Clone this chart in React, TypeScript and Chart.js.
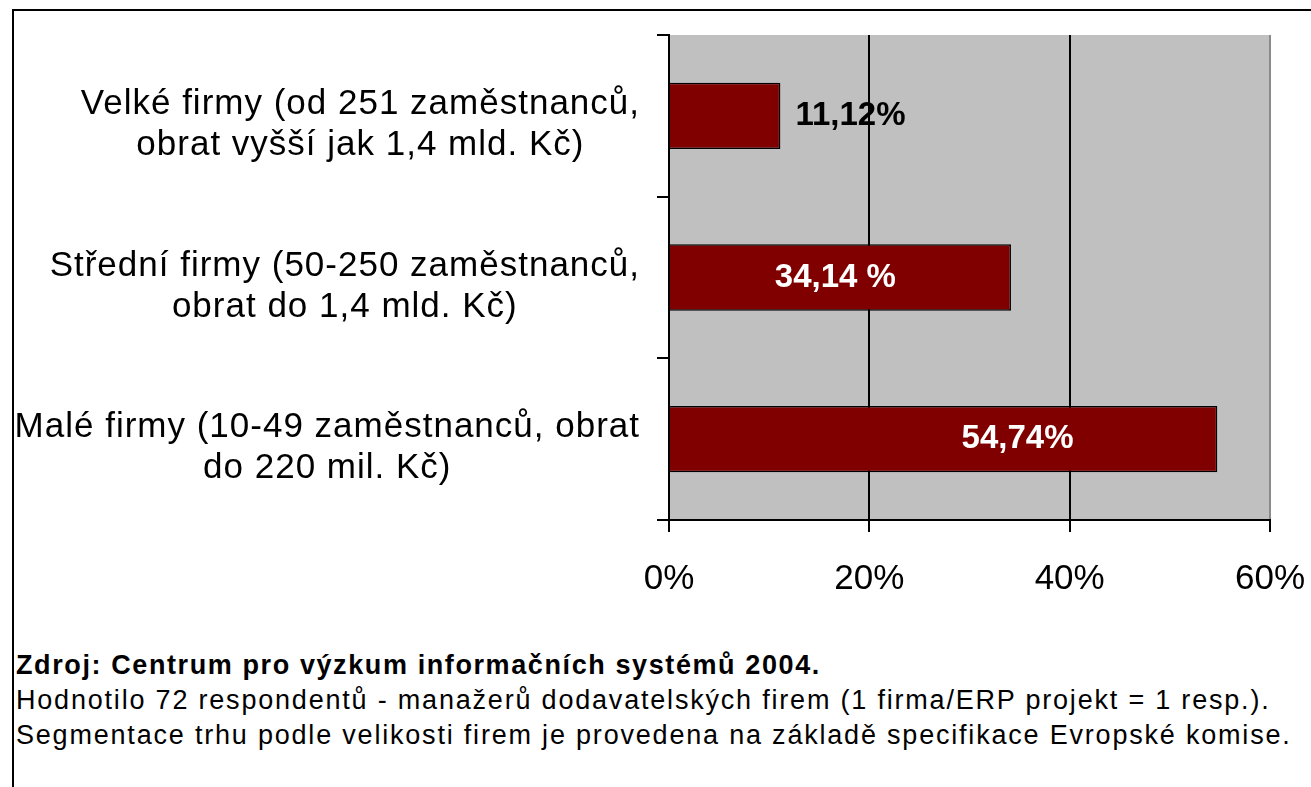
import React, { useEffect, useRef } from 'react';
import { Chart, registerables } from 'chart.js';

Chart.register(...registerables);

// ---- data ----
const categories: string[][] = [
  ['Velké firmy (od 251 zaměstnanců,', 'obrat vyšší jak 1,4 mld. Kč)'],
  ['Střední firmy (50-250 zaměstnanců,', 'obrat do 1,4 mld. Kč)'],
  ['Malé firmy (10-49 zaměstnanců, obrat', 'do 220 mil. Kč)'],
];
const shares: number[] = [11.12, 34.14, 54.74];
const valueLabels: string[] = ['11,12%', '34,14 %', '54,74%'];
const xTickValues: number[] = [0, 20, 40, 60];
const sourceLine = 'Zdroj: Centrum pro výzkum informačních systémů 2004.';
const noteLines: string[] = [
  'Hodnotilo 72 respondentů - manažerů dodavatelských firem (1 firma/ERP projekt = 1 resp.).',
  'Segmentace trhu podle velikosti firem je provedena na základě specifikace Evropské komise.',
];

// ---- style ----
const FONT = '"Liberation Sans", Arial, sans-serif';
const BAR_RED = '#800000';
const PLOT_GRAY = '#C0C0C0';
// where each value label sits: 'outside' = right of bar end, number = share of bar length for label centre
const labelPlacement: (string | number)[] = ['outside', 0.485, 0.635];

const plotBackground = {
  id: 'plotBackground',
  beforeDraw(chart: any) {
    const { ctx, chartArea } = chart;
    ctx.save();
    ctx.fillStyle = PLOT_GRAY;
    ctx.fillRect(chartArea.left, chartArea.top, chartArea.right - chartArea.left, chartArea.bottom - chartArea.top);
    ctx.restore();
  },
};

const categoryLabels = {
  id: 'categoryLabels',
  afterDraw(chart: any) {
    const { ctx } = chart;
    const yScale = chart.scales.y;
    ctx.save();
    ctx.font = `35px ${FONT}`;
    (ctx as any).letterSpacing = '1px';
    ctx.fillStyle = '#000';
    ctx.textAlign = 'center';
    ctx.textBaseline = 'middle';
    const rightEdge = chart.chartArea.left - 29;
    const lineGap = 41;
    categories.forEach((lines, i) => {
      const cy = yScale.getPixelForValue(i) + 9;
      const widest = Math.max(...lines.map((l) => ctx.measureText(l).width));
      const cx = rightEdge - widest / 2;
      const start = cy - ((lines.length - 1) * lineGap) / 2;
      lines.forEach((l, j) => ctx.fillText(l, cx, start + j * lineGap));
    });
    ctx.restore();
  },
};

const valueLabelPlugin = {
  id: 'valueLabels',
  afterDatasetsDraw(chart: any) {
    const { ctx } = chart;
    const meta = chart.getDatasetMeta(0);
    ctx.save();
    ctx.font = `bold 33px ${FONT}`;
    ctx.textBaseline = 'middle';
    meta.data.forEach((bar: any, i: number) => {
      const place = labelPlacement[i];
      if (place === 'outside') {
        ctx.fillStyle = '#000';
        ctx.textAlign = 'left';
        ctx.fillText(valueLabels[i], bar.x + 15, bar.y);
      } else {
        ctx.fillStyle = '#fff';
        ctx.textAlign = 'center';
        ctx.fillText(valueLabels[i], bar.base + (bar.x - bar.base) * (place as number), bar.y);
      }
    });
    ctx.restore();
  },
};

export default function App() {
  const canvasRef = useRef<HTMLCanvasElement | null>(null);

  useEffect(() => {
    if (!canvasRef.current) return;
    const chart = new Chart(canvasRef.current, {
      type: 'bar',
      data: {
        labels: categories.map((c) => c.join(' ')),
        datasets: [
          {
            data: shares,
            backgroundColor: BAR_RED,
            borderColor: '#000',
            borderWidth: 1.5,
            barPercentage: 0.41,
            categoryPercentage: 1,
          },
        ],
      },
      options: {
        indexAxis: 'y',
        responsive: false,
        animation: false,
        devicePixelRatio: 1,
        layout: { padding: { top: 35, right: 41, left: 0, bottom: 0 } },
        plugins: { legend: { display: false }, tooltip: { enabled: false }, title: { display: false } },
        scales: {
          x: {
            min: xTickValues[0],
            max: xTickValues[xTickValues.length - 1],
            afterBuildTicks: (scale: any) => {
              scale.ticks = xTickValues.map((v) => ({ value: v }));
            },
            afterFit: (scale: any) => {
              scale.height = 100;
              scale.paddingLeft = 0;
              scale.paddingRight = 0;
            },
            ticks: {
              callback: (v: any) => `${v}%`,
              font: { family: FONT, size: 35 },
              color: '#000',
              padding: 26,
              maxRotation: 0,
            },
            grid: {
              color: (c: any) => (c.index === xTickValues.length - 1 ? '#8a8a8a' : '#000'),
              tickColor: '#000',
              lineWidth: 2,
              tickLength: 12,
            },
            border: { display: true, color: '#000', width: 2 },
          },
          y: {
            afterFit: (scale: any) => {
              scale.width = 669;
              scale.paddingTop = 0;
              scale.paddingBottom = 0;
            },
            ticks: { display: false },
            grid: {
              display: true,
              drawOnChartArea: false,
              offset: true,
              color: '#000',
              lineWidth: 2,
              tickLength: 12,
            },
            border: { display: true, color: '#000', width: 2 },
          },
        },
      },
      plugins: [plotBackground, categoryLabels, valueLabelPlugin],
    } as any);
    return () => chart.destroy();
  }, []);

  return (
    <div
      style={{
        position: 'absolute',
        left: 0,
        top: 0,
        width: 1311,
        height: 787,
        background: '#fff',
        overflow: 'hidden',
      }}
    >
      <canvas ref={canvasRef} width={1311} height={620} style={{ position: 'absolute', left: 0, top: 0 }} />
      <div style={{ position: 'absolute', left: 12, top: 9, width: 1299, height: 2, background: '#000' }} />
      <div style={{ position: 'absolute', left: 12, top: 9, width: 2, height: 778, background: '#000' }} />
      <div
        style={{
          position: 'absolute',
          left: 16,
          top: 648,
          fontFamily: FONT,
          fontSize: 27,
          lineHeight: '35px',
          color: '#000',
          whiteSpace: 'nowrap',
        }}
      >
        <div style={{ fontWeight: 'bold', letterSpacing: '1.6px' }}>{sourceLine}</div>
        {noteLines.map((l) => (
          <div key={l} style={{ letterSpacing: '1.8px' }}>
            {l}
          </div>
        ))}
      </div>
    </div>
  );
}
